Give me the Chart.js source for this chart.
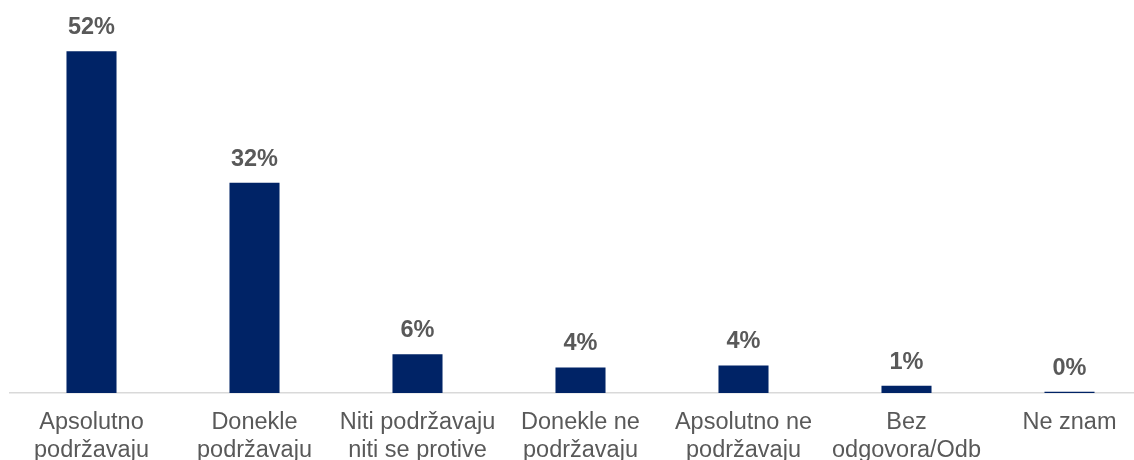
<!DOCTYPE html>
<html>
<head>
<meta charset="utf-8">
<script src="https://cdn.jsdelivr.net/npm/chart.js@4"></script>
<style>
  html, body { margin: 0; padding: 0; background: #fff; overflow: hidden; }
  #wrap { position: relative; width: 1151px; height: 479px; }
</style>
</head>
<body>
<div id="wrap"><canvas id="barChart"></canvas></div>
<script>
let categories = [
    ['Apsolutno', 'podržavaju'],
    ['Donekle', 'podržavaju'],
    ['Niti podržavaju', 'niti se protive'],
    ['Donekle ne', 'podržavaju'],
    ['Apsolutno ne', 'podržavaju'],
    ['Bez', 'odgovora/Odb'],
    ['Ne znam']
];
let values = [52, 32, 5.9, 3.9, 4.2, 1.1, 0.2];
let valueLabels = ['52%', '32%', '6%', '4%', '4%', '1%', '0%'];

// labels above bars
let barLabels = {
    id: 'barLabels',
    afterDatasetsDraw(chart) {
        let ctx = chart.ctx;
        let meta = chart.getDatasetMeta(0);
        ctx.save();
        ctx.font = 'bold 23.5px "Liberation Sans", Arial, sans-serif';
        ctx.fillStyle = '#595959';
        ctx.textAlign = 'center';
        ctx.textBaseline = 'alphabetic';
        meta.data.forEach((bar, i) => {
            ctx.fillText(valueLabels[i], bar.x, bar.y - 17);
        });
        ctx.restore();
    }
};

let ctxBar = document.getElementById('barChart').getContext('2d');

let barChart = new Chart(ctxBar, {
    type: 'bar',
    data: {
        labels: categories,
        datasets: [{
            data: values,
            backgroundColor: '#002366',
            borderWidth: 0,
            barPercentage: 0.307,
            categoryPercentage: 1
        }]
    },
    options: {
        responsive: true,
        maintainAspectRatio: false,
        animation: false,
        layout: {
            padding: { left: 10, right: 0, top: 25, bottom: 0 }
        },
        plugins: {
            legend: { display: false },
            tooltip: { enabled: false }
        },
        scales: {
            x: {
                grid: { display: false, drawTicks: false },
                border: { display: true, color: '#d9d9d9', width: 1.5 },
                ticks: {
                    color: '#595959',
                    padding: 15,
                    maxRotation: 0,
                    autoSkip: false,
                    font: { family: '"Liberation Sans", Arial, sans-serif', size: 23.5, lineHeight: 1.19 }
                }
            },
            y: {
                display: false,
                min: 0,
                max: 56
            }
        }
    },
    plugins: [barLabels]
});
</script>
</body>
</html>
